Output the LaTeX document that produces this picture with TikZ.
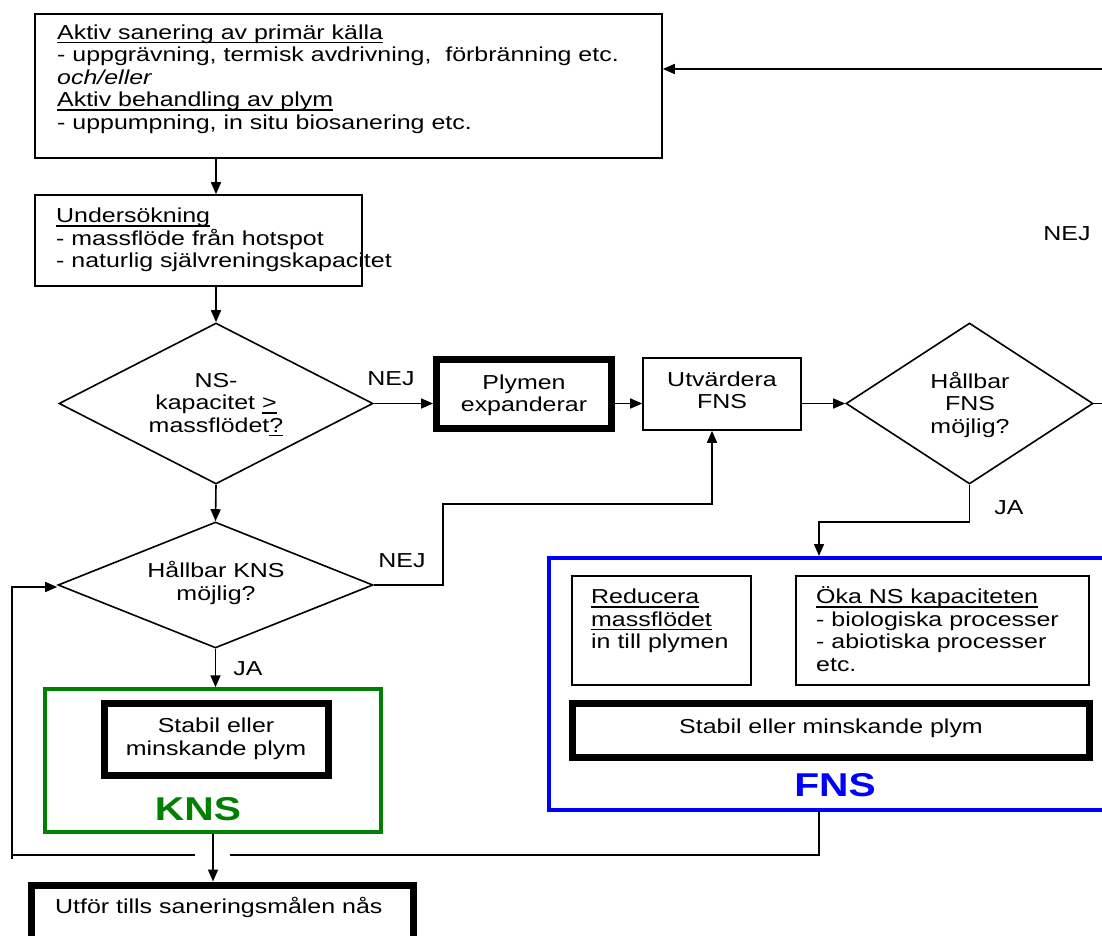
\documentclass[tikz,border=0pt]{standalone}
\usepackage{fontspec}
\setmainfont{Liberation Sans}[FakeStretch=1.235]
\usetikzlibrary{arrows.meta,shapes.geometric}
\definecolor{knsgreen}{RGB}{0,128,0}
\definecolor{fnsblue}{RGB}{0,0,255}
% underline at a fixed depth below the baseline
\newsavebox\ulbox
\newcommand\uln[1]{\sbox\ulbox{#1}\rlap{\rule[-3.8pt]{\wd\ulbox}{1.4pt}}\usebox\ulbox}
% uniform line height inside multi-line nodes
\newcommand\sr{\rule[-5pt]{0pt}{22.5pt}}
\newcommand\bodyfont{\fontsize{20.2}{22.5}\selectfont}

\begin{document}
\begin{tikzpicture}[x=1pt,y=-1pt,
  box/.style={draw, line width=1.6pt, inner sep=0pt},
  heavy/.style={draw, line width=7pt, inner sep=0pt},
  dia/.style={draw, diamond, line width=1.6pt, inner sep=0pt},
  txt/.style={font=\bodyfont, inner sep=0pt, align=left},
  ctxt/.style={font=\bodyfont, inner sep=0pt, align=center, anchor=north},
  flow/.style={line width=1.6pt, -{Triangle[length=12pt,width=10pt]}},
  wire/.style={line width=1.6pt},
  lbl/.style={font=\bodyfont, inner sep=0pt, anchor=base},
  tag/.style={font=\fontsize{33}{36}\selectfont\bfseries, inner sep=0pt, anchor=base}
]
\useasboundingbox (0,0) rectangle (1102,936);
\clip (0,0) rectangle (1102,936);
\fill[white] (0,0) rectangle (1102,936);

% ---- boxes and decisions
\node[box, minimum width=627pt, minimum height=144pt] (top) at (348.5,86) {};
\node[box, minimum width=327pt, minimum height=91pt] (und) at (198.5,240.5) {};
\node[dia, minimum width=314pt, minimum height=161pt] (d1) at (216,403.5) {};
\node[heavy, minimum width=175pt, minimum height=69pt] (plym) at (524,394) {};
\node[box, minimum width=158pt, minimum height=72pt] (utv) at (722,394) {};
\node[dia, minimum width=247pt, minimum height=161pt] (d2) at (969.5,403.5) {};
\node[dia, minimum width=315pt, minimum height=126pt] (d3) at (215.5,585) {};

% KNS group
\node[draw=knsgreen, line width=3.5pt, inner sep=0pt, minimum width=336pt, minimum height=143pt] (knsbox) at (213,760.5) {};
\node[heavy, minimum width=224pt, minimum height=72pt] (knsstab) at (216.5,739.5) {};

% FNS group
\node[draw=fnsblue, line width=4pt, inner sep=0pt, minimum width=571pt, minimum height=252pt] (fnsbox) at (834.5,684) {};
\node[box, minimum width=179pt, minimum height=109pt] (red) at (661.5,630.5) {};
\node[box, minimum width=293pt, minimum height=109pt] (oka) at (942.5,630.5) {};
\node[heavy, minimum width=517pt, minimum height=54pt] (fnsstab) at (831,730.5) {};

\node[heavy, minimum width=382pt, minimum height=60pt] (utfor) at (222.5,915) {};

% ---- texts
\node[txt, anchor=north west] (toptext) at (57,21.8) {\sr\uln{Aktiv sanering av primär källa}\\\sr- uppgrävning, termisk avdrivning,\ \ förbränning etc.\\\sr\textit{och/eller}\\\sr\uln{Aktiv behandling av plym}\\\sr- uppumpning, in situ biosanering etc.};
\node[txt, anchor=north west] (undtext) at (56,205.2) {\sr\uln{Undersökning}\\\sr- massflöde från hotspot\\\sr- naturlig självreningskapacitet};
\node[ctxt] (d1text) at (216,369.5) {\sr NS-\\\sr kapacitet \uln{>}\\\sr massflödet\uln{?}};
\node[ctxt] (plymtext) at (524,371.5) {\sr Plymen\\\sr expanderar};
\node[ctxt] (utvtext) at (722,368.5) {\sr Utvärdera\\\sr FNS};
\node[ctxt] (d2text) at (970,370.5) {\sr Hållbar\\\sr FNS\\\sr möjlig?};
\node[ctxt] (d3text) at (216,560) {\sr Hållbar KNS\\\sr möjlig?};
\node[ctxt] (knsstabtext) at (216,715) {\sr Stabil eller\\\sr minskande plym};
\node[txt, anchor=north west] (redtext) at (591,586) {\sr\uln{Reducera}\\\sr\uln{massflödet}\\\sr in till plymen};
\node[txt, anchor=north west] (okatext) at (816,586) {\sr\uln{Öka NS kapaciteten}\\\sr- biologiska processer\\\sr- abiotiska processer\\\sr etc.};
\node[ctxt] (fnsstabtext) at (831,716) {\sr Stabil eller minskande plym};
\node[txt, anchor=north west] (utfortext) at (55,896) {\sr Utför tills saneringsmålen nås};

\node[tag, text=knsgreen] (knstag) at (198,820) {KNS};
\node[tag, text=fnsblue] (fnstag) at (835,796) {FNS};

\node[lbl] (nej1) at (391,385) {NEJ};
\node[lbl] (nej2) at (402,567) {NEJ};
\node[lbl] (nej3) at (1067,240) {NEJ};
\node[lbl] (ja1) at (248,675) {JA};
\node[lbl] (ja2) at (1009,514) {JA};

% ---- connectors
\coordinate (fnsx) at (819,0);
\coordinate (kbend) at (443,504);
\coordinate (gapR) at (230,855);
\coordinate (gapL) at (195,855);
\coordinate (lcorner) at (12,855);
\coordinate (ltail) at (12,859);

\draw[flow] (top.south -| d1.north) -- (und.north -| d1.north);
\draw[flow] (und.south -| d1.north) -- (d1.north);
\draw[flow] (d1.east) -- (plym.west |- d1.east);
\draw[flow] (plym.east |- d1.east) -- (utv.west |- d1.east);
\draw[flow] (utv.east |- d2.west) -- (d2.west);
\draw[flow] (d2.east) -- ++(40,0) |- ([yshift=17pt]top.east);
\draw[flow] (d2.south) -- ++(0,37) -| (fnsbox.north -| fnsx);
\draw[flow] (d1.south) -- (d3.north);
\draw[flow] (d3.south) -- (knsbox.north -| d3.south);
\draw[flow] (d3.east) -| (kbend) -| ([xshift=-10pt]utv.south);
\draw[flow] (knsbox.south) -- (utfor.north -| knsbox.south);
\draw[wire] (fnsbox.south -| fnsx) |- (gapR);
\draw[flow] (gapL) -- (lcorner) |- ([yshift=-2pt]d3.west);
\draw[wire] (lcorner) -- (ltail);
\end{tikzpicture}
\end{document}
